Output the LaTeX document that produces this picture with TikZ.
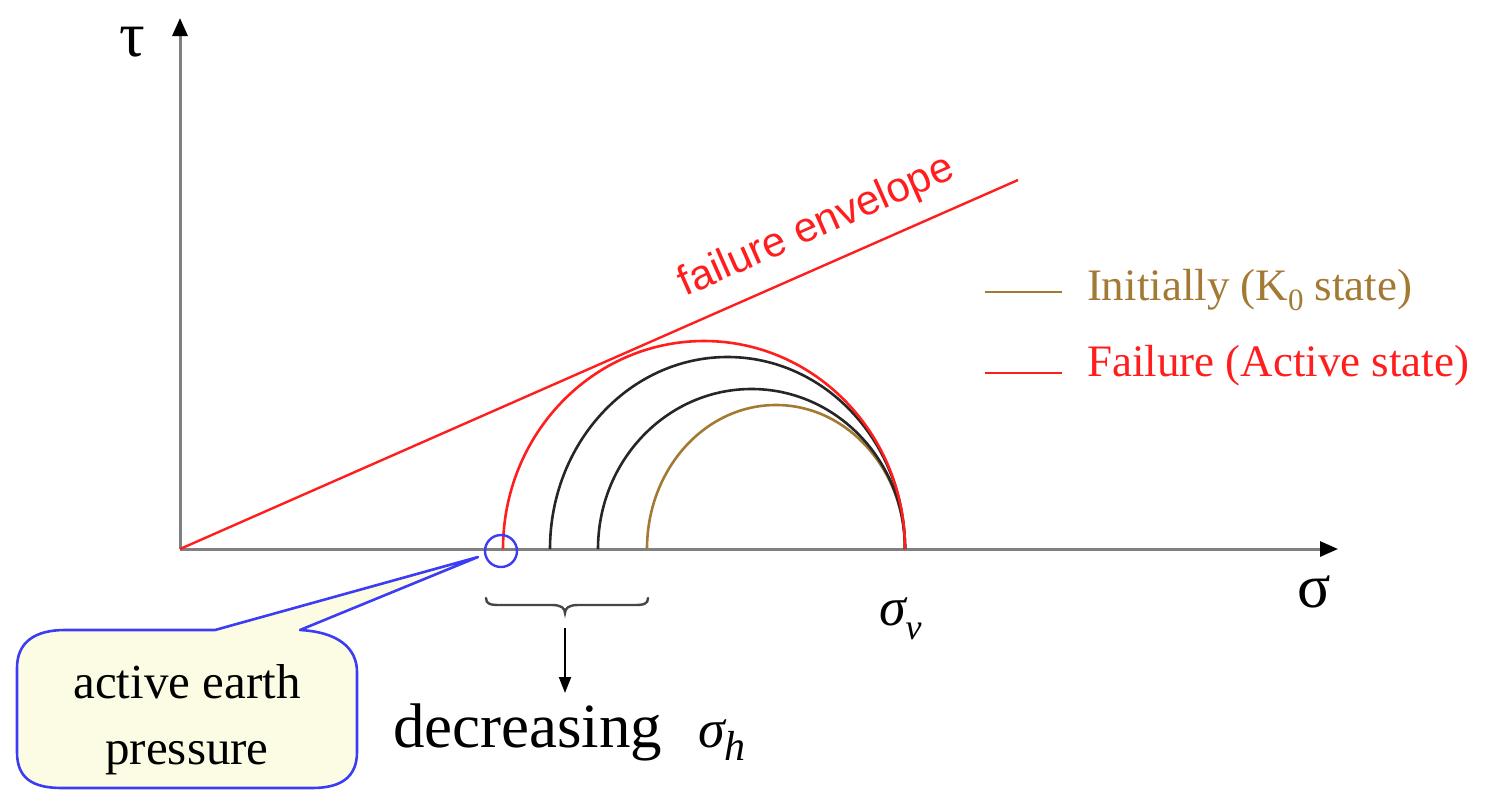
\documentclass[tikz,border=0pt]{standalone}
\usepackage{fontspec}
\setmainfont{Liberation Serif}
\newfontfamily\arialfont{Liberation Sans}
\usetikzlibrary{arrows.meta}
\definecolor{tanc}{RGB}{163,122,52}
\definecolor{envred}{RGB}{255,30,30}
\definecolor{axgray}{RGB}{128,128,128}
\definecolor{callblue}{RGB}{60,60,245}
\definecolor{callfill}{RGB}{252,252,228}
\definecolor{bracec}{RGB}{70,70,70}
\tikzset{
  axisline/.style={draw=axgray, line width=3pt, -{Triangle[width=15pt,length=18pt,color=black]}},
  mohr/.style={line width=2.6pt},
  lbl/.style={inner sep=0pt, outer sep=0pt},
}
\begin{document}
\begin{tikzpicture}[x=1pt,y=-1pt]
\useasboundingbox (0,0) rectangle (1499,790);
% axes
\coordinate (O) at (180,549);
\coordinate (ytip) at (180,18);
\coordinate (xtip) at (1338,549);
\draw[axisline] (O) -- (ytip);
\draw[axisline] (O) -- (xtip);
\node[lbl, font=\fontsize{64}{64}\selectfont] (tau) at (132,42) {τ};
\node[lbl, font=\fontsize{62}{62}\selectfont] (sig) at (1314,592) {σ};
% Mohr circles
\draw[mohr, draw=tanc] (647,549) arc[start angle=180, end angle=360, x radius=129, y radius=144];
\draw[mohr, draw=black!85] (598,549) arc[start angle=180, end angle=360, x radius=153.5, y radius=160];
\draw[mohr, draw=black!85] (550,549) arc[start angle=180, end angle=360, x radius=177.5, y radius=192];
\draw[mohr, draw=envred] (503,549) arc[start angle=180, end angle=360, x radius=201, y radius=208];
% failure envelope
\coordinate (envend) at (1018,180);
\draw[envred, line width=2.4pt] (O) -- (envend);
\node[lbl, anchor=base, rotate=23.8, text=envred, font=\arialfont\fontsize{42}{42}\selectfont] (envlbl) at (821,237) {failure envelope};
% legend
\coordinate (l1a) at (985,292); \coordinate (l1b) at (1062,292);
\coordinate (l2a) at (985,373); \coordinate (l2b) at (1062,373);
\draw[tanc, line width=2.4pt] (l1a) -- (l1b);
\draw[envred, line width=2.4pt] (l2a) -- (l2b);
\node[lbl, anchor=base west, text=tanc, font=\fontsize{45}{45}\selectfont] (leg1) at (1087,300) {Initially (K\raisebox{-10pt}{\fontsize{31}{31}\selectfont 0} state)};
\node[lbl, anchor=base west, text=envred, font=\fontsize{45}{45}\selectfont] (leg2) at (1087,376) {Failure (Active state)};
% sigma_v
\node[lbl, anchor=base west, font=\fontsize{54}{54}\selectfont\itshape] (sigv) at (879,625) {σ\raisebox{-14pt}{\fontsize{36}{36}\selectfont v}};
% small blue circle
\node[draw=callblue, line width=2.4pt, circle, minimum size=32pt, inner sep=0pt] (pa) at (501,551) {};
% callout
\draw[draw=callblue, fill=callfill, line width=2.6pt, line join=round]
  (17,668) .. controls (17,642) and (35,630) .. (65,630) -- (215,630) -- (478,557) -- (300,630)
  .. controls (338,632) and (357,648) .. (357,672) -- (357,752)
  .. controls (357,778) and (340,788) .. (312,788) -- (62,788)
  .. controls (32,788) and (17,778) .. (17,752) -- cycle;
\node[lbl, align=center, font=\fontsize{49}{66}\selectfont] (calltext) at (187,720) {active earth\\pressure};
% brace
\draw[bracec, line width=2.4pt, line cap=round]
  (486,598) .. controls (486,604) and (490,605) .. (500,605) -- (552,605)
  .. controls (561,605) and (565,608) .. (565,613)
  .. controls (565,608) and (569,605) .. (578,605) -- (634,605)
  .. controls (644,605) and (648,604) .. (648,598);
\coordinate (bt) at (565,628);
\coordinate (bb) at (565,693);
\draw[black, line width=2pt, -{Triangle[width=12pt,length=16pt]}] (bt) -- (bb);
\node[lbl, anchor=base west, font=\fontsize{63}{63}\selectfont] (decr) at (393,747) {decreasing};
\node[lbl, anchor=base west, font=\fontsize{54}{54}\selectfont\itshape] (sigh) at (698,747) {σ\raisebox{-13pt}{\fontsize{42}{42}\selectfont h}};
\end{tikzpicture}
\end{document}
